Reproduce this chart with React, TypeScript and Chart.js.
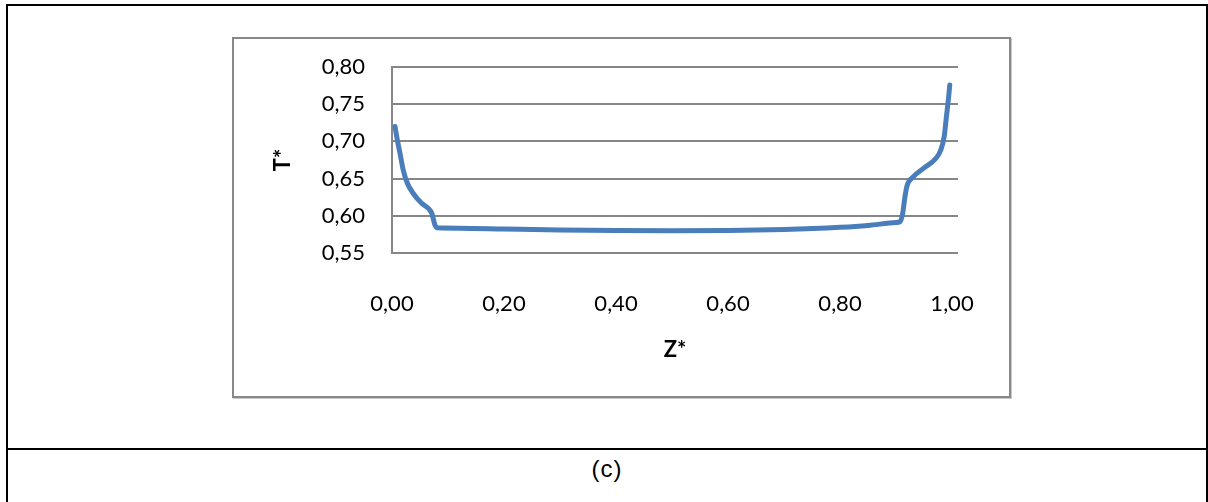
import React, { useEffect, useRef } from "react";
import { Chart, registerables } from "chart.js";

Chart.register(...registerables);

// Data
const zValues = [
  0.0054, 0.0095, 0.0143, 0.02, 0.0274, 0.038, 0.053, 0.065, 0.071, 0.0768, 0.081,
  0.12, 0.2, 0.3, 0.4, 0.5, 0.6, 0.7, 0.8, 0.85, 0.9, 0.907,
  0.912, 0.916, 0.92, 0.931, 0.949, 0.971, 0.98, 0.986, 0.99, 0.994, 0.996,
];
const tValues = [
  0.72, 0.702, 0.684, 0.6616, 0.6437, 0.63, 0.6168, 0.61, 0.6034, 0.5876, 0.5838,
  0.5834, 0.5822, 0.5808, 0.5802, 0.58, 0.5802, 0.5815, 0.5845, 0.587, 0.591, 0.592,
  0.6034, 0.6257, 0.641, 0.6526, 0.6638, 0.677, 0.6884, 0.7063, 0.733, 0.76, 0.7758,
];
const xTicks = [0, 0.2, 0.4, 0.6, 0.8, 1.0];
const yTicks = [0.55, 0.6, 0.65, 0.7, 0.75, 0.8];
const xTitle = "Z*";
const yTitle = "T*";
const caption = "(c)";

const fmt = (v: number) => Number(v).toFixed(2).replace(".", ",");

export default function App() {
  const ref = useRef<HTMLCanvasElement | null>(null);

  useEffect(() => {
    if (!ref.current) return;
    const tickFont = { family: "Lato, 'Open Sans', sans-serif", size: 22 };
    const titleFont = { family: "Lato, 'Open Sans', sans-serif", size: 22, weight: "bold" as const };
    const chart = new Chart(ref.current, {
      type: "line",
      data: {
        datasets: [
          {
            data: zValues.map((z, i) => ({ x: z, y: tValues[i] })),
            borderColor: "#4A7EBB",
            borderWidth: 5,
            pointRadius: 0,
            fill: false,
            cubicInterpolationMode: "monotone",
            borderCapStyle: "round",
            borderJoinStyle: "round",
          },
        ],
      },
      options: {
        animation: false,
        responsive: false,
        maintainAspectRatio: false,
        layout: { padding: { left: 240, top: 67, right: 250, bottom: 129 } },
        plugins: { legend: { display: false }, tooltip: { enabled: false } },
        scales: {
          x: {
            type: "linear",
            min: 0,
            max: 1.0107,
            afterBuildTicks: (s: any) => {
              s.ticks = xTicks.map((v) => ({ value: v }));
            },
            afterFit: (s: any) => {
              s.height = 120;
            },
            grid: { display: false },
            border: { display: false },
            ticks: {
              font: tickFont,
              color: "#000",
              padding: 30,
              maxRotation: 0,
              autoSkip: false,
              callback: (v: any) => fmt(v),
            },
            title: {
              display: true,
              text: xTitle,
              font: titleFont,
              color: "#000",
              padding: { top: 0, bottom: 10 },
            },
          },
          y: {
            type: "linear",
            min: 0.55,
            max: 0.8,
            afterBuildTicks: (s: any) => {
              s.ticks = yTicks.map((v) => ({ value: v }));
            },
            afterFit: (s: any) => {
              s.width = 152;
            },
            grid: { color: "#868686", lineWidth: 2, drawTicks: false },
            border: { display: true, color: "#868686", width: 2 },
            ticks: {
              font: tickFont,
              color: "#000",
              padding: 27,
              autoSkip: false,
              callback: (v: any) => fmt(v),
            },
            title: {
              display: true,
              text: yTitle,
              font: titleFont,
              color: "#000",
              padding: { top: 30, bottom: 0 },
            },
          },
        },
      },
    } as any);
    return () => chart.destroy();
  }, []);

  return (
    <div
      style={{
        position: "fixed",
        left: 0,
        top: 0,
        width: 1208,
        height: 502,
        overflow: "hidden",
        background: "#fff",
      }}
    >
      <div
        style={{
          position: "absolute",
          left: 6,
          top: 4,
          width: 1202,
          height: 600,
          border: "2px solid #000",
          boxSizing: "border-box",
        }}
      />
      <div
        style={{
          position: "absolute",
          left: 6,
          top: 448,
          width: 1202,
          height: 2,
          background: "#000",
        }}
      />
      <div
        style={{
          position: "absolute",
          left: 232,
          top: 37,
          width: 779,
          height: 361,
          border: "2px solid #888",
          boxSizing: "border-box",
          boxShadow: "1px 1px 0 #c8c8c8",
        }}
      />
      <div
        style={{
          position: "absolute",
          left: 6,
          top: 454,
          width: 1202,
          textAlign: "center",
          fontFamily: "'Liberation Sans', Arial, sans-serif",
          fontSize: 24,
          letterSpacing: 1,
          lineHeight: "30px",
          color: "#000",
        }}
      >
        {caption}
      </div>
      <canvas
        ref={ref}
        width={1208}
        height={502}
        style={{ position: "absolute", left: 0, top: 0 }}
      />
    </div>
  );
}
